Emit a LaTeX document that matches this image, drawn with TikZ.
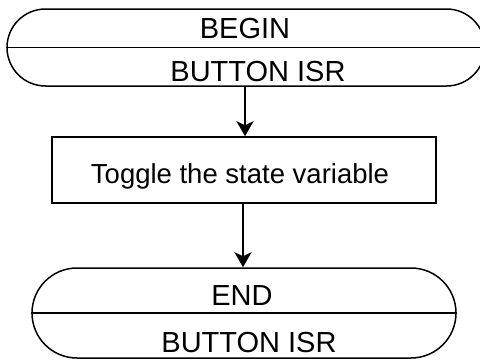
\documentclass[tikz,border=0pt]{standalone}
\usepackage{fontspec}
\setmainfont{Liberation Sans}
\usetikzlibrary{shapes.misc,arrows.meta}
\begin{document}
\begin{tikzpicture}[x=1pt,y=1pt,
  line width=1.5pt,
  terminal/.style={draw, rounded rectangle, inner sep=0pt, minimum height=#1},
  procbox/.style={draw, rectangle, inner sep=0pt},
  lbl/.style={anchor=base, inner sep=0pt, font=\fontsize{29}{31}\selectfont},
  flow/.style={-{Stealth[length=15pt, width=17pt, inset=4pt]}}
]
\useasboundingbox (0,0) rectangle (480,360);
\clip (0,0) rectangle (480,360);

% start terminal
\node[terminal=77pt, minimum width=478pt] (begin) at (246,312.5) {};
\draw (begin.west) -- (begin.east);
\node[lbl] (beginA) at (245,322) {BEGIN};
\node[lbl] (beginB) at (258,279) {BUTTON ISR};

% process step
\node[procbox, minimum width=384pt, minimum height=66pt] (toggle) at (244,190) {};
\node[lbl, font=\fontsize{27.5}{30}\selectfont] (toggleT) at (240,177) {Toggle the state variable};

% end terminal
\node[terminal=90pt, minimum width=424pt] (finish) at (244,47) {};
\draw (finish.west) -- (finish.east);
\node[lbl] (endA) at (242,55) {END};
\node[lbl] (endB) at (249,8) {BUTTON ISR};

% connectors
\coordinate (a1) at (245,0);
\coordinate (a2) at (243,0);
\draw[flow] (begin.south -| a1) -- (toggle.north -| a1);
\draw[flow] (toggle.south -| a2) -- (finish.north -| a2);
\end{tikzpicture}
\end{document}
